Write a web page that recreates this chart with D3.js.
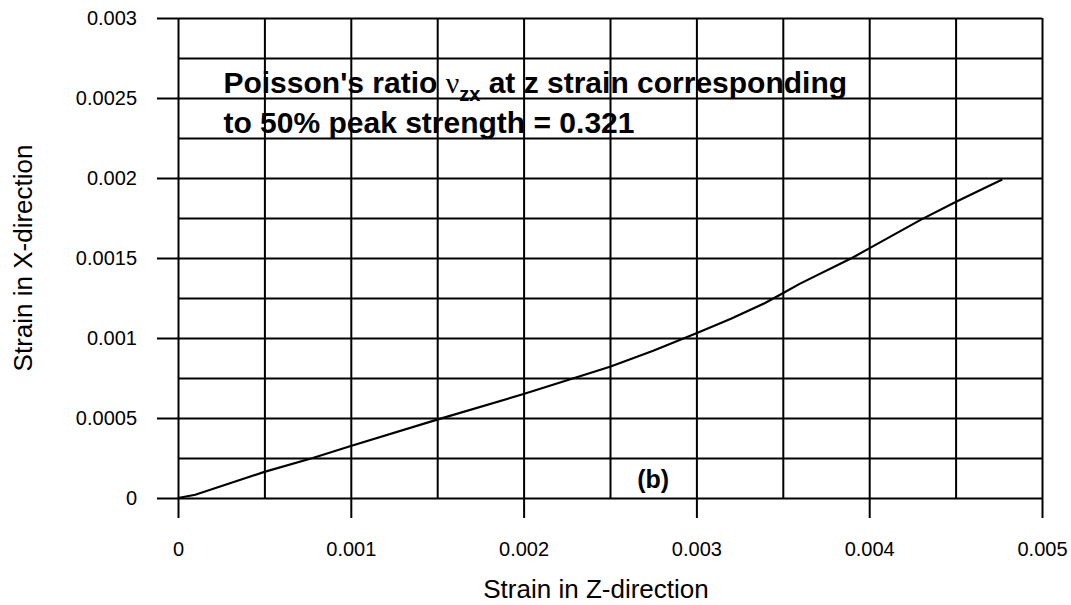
<!DOCTYPE html>
<html>
<head>
<meta charset="utf-8">
<script src="https://cdn.jsdelivr.net/npm/d3@7"></script>
<style>
  html, body { margin: 0; padding: 0; background: #fff; }
  svg text { font-family: Arial, "Liberation Sans", sans-serif; fill: #000; }
</style>
</head>
<body>
<div id="chart"></div>
<script>
// Strain in Z-direction (x) vs strain in X-direction (y)
const zStrain = [0, 0.0001, 0.0005, 0.00078, 0.001, 0.0015, 0.002, 0.0025, 0.00275, 0.003,
  0.0032, 0.0034, 0.0035, 0.0036, 0.0039, 0.004, 0.0043, 0.0045, 0.00477];
const xStrain = [0, 0.00002, 0.000163, 0.00025, 0.000325, 0.00049, 0.00065, 0.00082, 0.00092, 0.00103,
  0.00112, 0.00122, 0.00128, 0.00134, 0.0015, 0.00156, 0.00174, 0.00185, 0.00199];

const xTickValues = [0, 0.001, 0.002, 0.003, 0.004, 0.005];
const xTickLabels = ['0', '0.001', '0.002', '0.003', '0.004', '0.005'];
const xGridValues = [0.0005, 0.0015, 0.0025, 0.0035, 0.0045];
const yTickValues = [0, 0.0005, 0.001, 0.0015, 0.002, 0.0025, 0.003];
const yTickLabels = ['0', '0.0005', '0.001', '0.0015', '0.002', '0.0025', '0.003'];
const yGridValues = [0.00025, 0.00075, 0.00125, 0.00175, 0.00225, 0.00275];

const W = 1071, H = 605;
const margin = { top: 18, right: 29, bottom: 107, left: 178 },
  width = W - margin.left - margin.right,
  height = H - margin.top - margin.bottom;

const svg = d3.select('#chart').append('svg')
  .attr('width', W)
  .attr('height', H);
const g = svg.append('g')
  .attr('transform', 'translate(' + margin.left + ',' + margin.top + ')');

const x = d3.scaleLinear().domain([0, 0.005]).range([0, width]);
const y = d3.scaleLinear().domain([0, 0.003]).range([height, 0]);

// grid lines (minor, no ticks outside)
g.append('g')
  .attr('class', 'grid')
  .attr('transform', 'translate(0,' + height + ')')
  .call(d3.axisBottom(x).tickValues(xGridValues).tickSize(-height).tickFormat(''));
g.append('g')
  .attr('class', 'grid')
  .call(d3.axisLeft(y).tickValues(yGridValues).tickSize(-width).tickFormat(''));

// major grid lines
g.append('g')
  .attr('class', 'grid')
  .attr('transform', 'translate(0,' + height + ')')
  .call(d3.axisBottom(x).tickValues(xTickValues).tickSize(-height).tickFormat(''));
g.append('g')
  .attr('class', 'grid')
  .call(d3.axisLeft(y).tickValues(yTickValues).tickSize(-width).tickFormat(''));

// axes with outside ticks
const xAxis = d3.axisBottom(x)
  .tickValues(xTickValues)
  .tickFormat((d, i) => xTickLabels[i])
  .tickSize(20)
  .tickPadding(24);
g.append('g')
  .attr('class', 'axis')
  .attr('transform', 'translate(0,' + height + ')')
  .call(xAxis);

const yAxis = d3.axisLeft(y)
  .tickValues(yTickValues)
  .tickFormat((d, i) => yTickLabels[i])
  .tickSize(21)
  .tickPadding(20);
g.append('g')
  .attr('class', 'axis')
  .call(yAxis);

svg.selectAll('.grid .domain, .axis .domain').remove();
svg.selectAll('.grid line, .axis line')
  .attr('stroke', '#000')
  .attr('stroke-width', 2);
svg.selectAll('.axis text')
  .style('font-size', '20px');

// data line
const pts = zStrain.map((d, i) => ({ z: d, v: xStrain[i] }));
const linea = d3.line()
  .x(d => x(d.z))
  .y(d => y(d.v));
g.append('path')
  .attr('d', linea(pts))
  .attr('fill', 'none')
  .attr('stroke', '#000')
  .attr('stroke-width', 2.2);

// axis titles
svg.append('text')
  .attr('x', 596)
  .attr('y', 598)
  .attr('text-anchor', 'middle')
  .style('font-size', '26px')
  .text('Strain in Z-direction');
svg.append('text')
  .attr('transform', 'translate(32,' + (margin.top + height / 2) + ') rotate(-90)')
  .attr('text-anchor', 'middle')
  .style('font-size', '26px')
  .text('Strain in X-direction');

// annotation
const note = g.append('text')
  .attr('x', x(0.000263))
  .attr('y', y(0.0025) - 5)
  .style('font-size', '30px')
  .style('font-weight', 'bold');
note.append('tspan').text("Poisson's ratio ");
note.append('tspan').style('font-family', '"Times New Roman", "Liberation Serif", serif')
  .style('font-weight', 'normal').text('\u03bd');
note.append('tspan').attr('dy', 8).style('font-size', '20px').text('zx');
note.append('tspan').attr('dy', -8).text(' at z strain corresponding');
g.append('text')
  .attr('x', x(0.000263))
  .attr('y', y(0.0025) + 35)
  .style('font-size', '30px')
  .style('font-weight', 'bold')
  .text('to 50% peak strength = 0.321');

g.append('text')
  .attr('x', x(0.00275))
  .attr('y', y(0.00006))
  .attr('text-anchor', 'middle')
  .style('font-size', '25px')
  .style('font-weight', 'bold')
  .text('(b)');
</script>
</body>
</html>
